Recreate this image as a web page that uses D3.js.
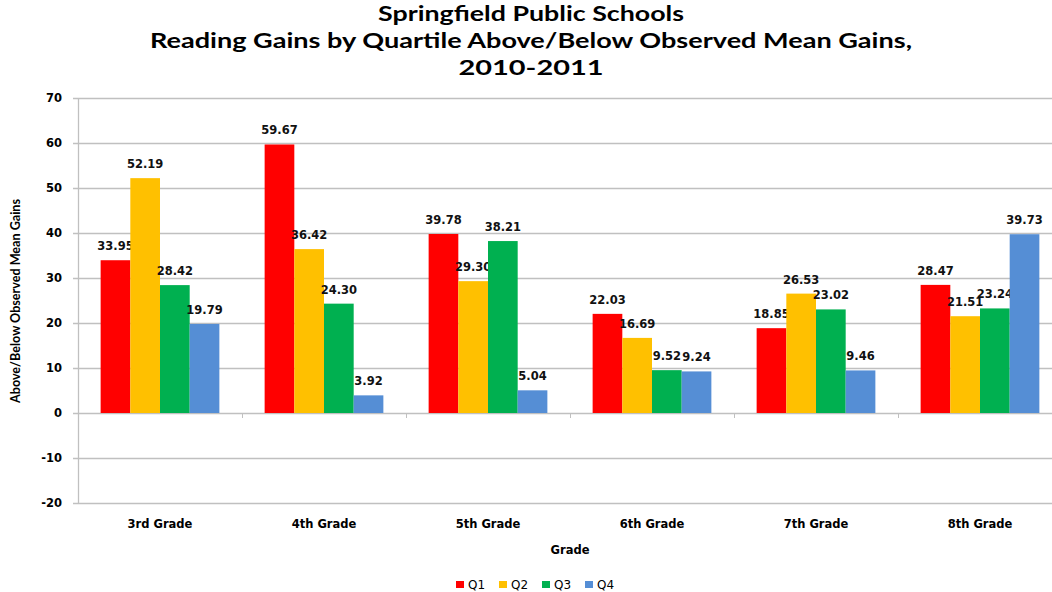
<!DOCTYPE html>
<html>
<head>
<meta charset="utf-8">
<script src="https://cdn.jsdelivr.net/npm/d3@7"></script>
<style>
  body { margin: 0; background: #fff; }
  svg { display: block; }
</style>
</head>
<body>
<div class="chart"></div>
<script>
const grades = ["3rd Grade", "4th Grade", "5th Grade", "6th Grade", "7th Grade", "8th Grade"];
const quartiles = ["Q1", "Q2", "Q3", "Q4"];
const q1 = [33.95, 59.67, 39.78, 22.03, 18.85, 28.47];
const q2 = [52.19, 36.42, 29.30, 16.69, 26.53, 21.51];
const q3 = [28.42, 24.30, 38.21, 9.52, 23.02, 23.24];
const q4 = [19.79, 3.92, 5.04, 9.24, 9.46, 39.73];
const yTicks = [-20, -10, 0, 10, 20, 30, 40, 50, 60, 70];
const titleLines = ["Springfield Public Schools",
  "Reading Gains by Quartile Above/Below Observed Mean Gains,",
  "2010-2011"];

const series = [q1, q2, q3, q4];
const colors = ["#FF0000", "#FFC000", "#00B050", "#558ED5"];

const width = 1052, height = 592;
const plotLeft = 78, plotRight = 1062, plotTop = 98, plotBottom = 503;

const svg = d3.select(".chart").append("svg")
    .attr("width", width)
    .attr("height", height);

const titleFont = "Lato, 'Open Sans', 'Noto Sans', sans-serif";
const boldFont = "'DejaVu Sans', Verdana, sans-serif";

// title
svg.append("g").selectAll("text")
    .data(titleLines)
    .join("text")
    .attr("x", 531)
    .attr("y", (d, i) => 21 + i * 27)
    .attr("text-anchor", "middle")
    .style("font", `bold 20px ${titleFont}`)
    .attr("textLength", (d, i) => [306, 762, 145][i])
    .attr("lengthAdjust", "spacingAndGlyphs")
    .text(d => d);

const y = d3.scaleLinear().domain([-20, 70]).range([plotBottom, plotTop]);
const x0 = d3.scaleBand().domain(grades).range([plotLeft, plotRight])
    .paddingInner(0.276).paddingOuter(0.138);
const x1 = d3.scaleBand().domain(quartiles).range([0, x0.bandwidth()]);

// gridlines
svg.append("g")
    .selectAll("line")
    .data(yTicks)
    .join("line")
    .attr("x1", plotLeft - 5)
    .attr("x2", plotRight)
    .attr("y1", d => Math.round(y(d)) + 0.5)
    .attr("y2", d => Math.round(y(d)) + 0.5)
    .attr("stroke", "#C0C0C0")
    .attr("stroke-width", 1.3);

// y axis line
svg.append("line")
    .attr("x1", plotLeft + 0.5).attr("x2", plotLeft + 0.5)
    .attr("y1", plotTop).attr("y2", plotBottom)
    .attr("stroke", "#C0C0C0")
    .attr("stroke-width", 1.3);

// y tick labels
svg.append("g").selectAll("text")
    .data(yTicks)
    .join("text")
    .attr("x", 62)
    .attr("y", d => y(d))
    .attr("dy", "0.35em")
    .attr("text-anchor", "end")
    .style("font", `bold 11.5px ${boldFont}`)
    .text(d => d);

// category ticks on zero line
const bounds = grades.map((g, i) => plotLeft + i * (plotRight - plotLeft) / grades.length).slice(1);
svg.append("g").selectAll("line")
    .data(bounds)
    .join("line")
    .attr("x1", d => Math.round(d) + 0.5)
    .attr("x2", d => Math.round(d) + 0.5)
    .attr("y1", y(0))
    .attr("y2", y(0) + 5)
    .attr("stroke", "#C0C0C0");

// bars
const rows = [];
grades.forEach((g, i) => {
    quartiles.forEach((q, j) => {
        rows.push({grade: g, q: q, value: series[j][i], color: colors[j]});
    });
});

const bars = svg.append("g").selectAll("g")
    .data(rows)
    .join("g");

bars.append("rect")
    .attr("x", d => x0(d.grade) + x1(d.q))
    .attr("width", x1.bandwidth())
    .attr("y", d => y(Math.max(0, d.value)))
    .attr("height", d => Math.abs(y(d.value) - y(0)))
    .attr("fill", d => d.color);

bars.append("text")
    .attr("x", d => x0(d.grade) + x1(d.q) + x1.bandwidth() / 2)
    .attr("y", d => y(d.value) - 10)
    .attr("text-anchor", "middle")
    .style("font", `bold 11.5px ${boldFont}`)
    .attr("fill", "#111")
    .text(d => d.value.toFixed(2));

// category labels
svg.append("g").selectAll("text")
    .data(grades)
    .join("text")
    .attr("x", d => x0(d) + x0.bandwidth() / 2)
    .attr("y", 528)
    .attr("text-anchor", "middle")
    .style("font", `bold 11.5px ${boldFont}`)
    .text(d => d);

// axis titles
svg.append("text")
    .attr("x", 570)
    .attr("y", 554)
    .attr("text-anchor", "middle")
    .style("font", `bold 11.5px ${boldFont}`)
    .text("Grade");

svg.append("text")
    .attr("transform", "translate(20,301) rotate(-90)")
    .attr("text-anchor", "middle")
    .style("font", `bold 13px ${titleFont}`)
    .attr("textLength", 204)
    .attr("lengthAdjust", "spacingAndGlyphs")
    .text("Above/Below Observed Mean Gains");

// legend
const legendX = [456, 499, 542, 585];
const legend = svg.append("g").selectAll("g")
    .data(quartiles)
    .join("g")
    .attr("transform", (d, i) => `translate(${legendX[i]},581)`);

legend.append("rect")
    .attr("width", 8)
    .attr("height", 7)
    .attr("fill", (d, i) => colors[i]);

legend.append("text")
    .attr("x", 12)
    .attr("y", 7.5)
    .style("font", `12px ${boldFont}`)
    .text(d => d);
</script>
</body>
</html>
